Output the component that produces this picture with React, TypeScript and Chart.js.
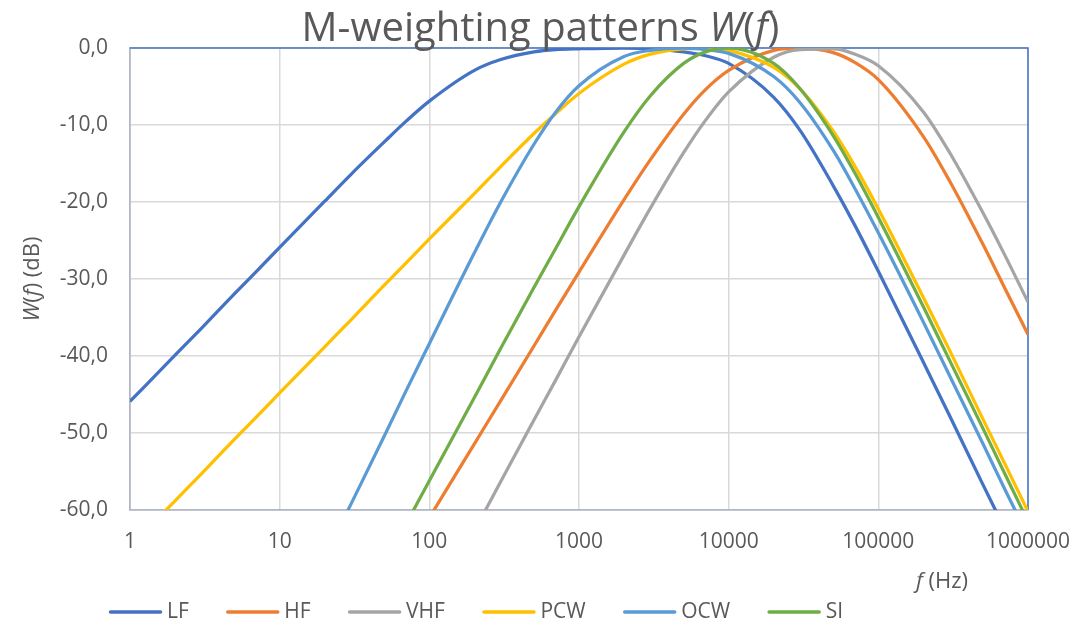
import React, { useEffect, useRef } from 'react';
import { Chart, registerables } from 'chart.js';

Chart.register(...registerables);

// ---- data ----
const FREQ_HZ = [1, 2, 3, 5, 7, 10, 20, 30, 50, 70, 100, 200, 300, 500, 700, 1000, 2000, 3000, 5000, 7000, 10000, 20000, 30000, 50000, 70000, 100000, 200000, 300000, 500000, 700000, 1000000];

const LF = [-45.9, -39.9, -36.4, -31.9, -29.0, -25.9, -19.9, -16.4, -12.2, -9.5, -6.9, -2.9, -1.5, -0.5, -0.2, -0.1, 0.0, -0.1, -0.5, -1.0, -2.0, -6.4, -10.7, -17.9, -23.1, -29.0, -40.8, -47.8, -56.7, -62.5, -68.7];
const HF = [null, null, null, null, null, null, null, -77.8, -70.7, -66.0, -61.0, -51.4, -45.8, -38.7, -34.0, -29.1, -19.7, -14.5, -8.6, -5.4, -2.9, -0.3, 0.0, -0.6, -1.9, -4.1, -11.5, -17.3, -25.5, -31.2, -37.2];
const VHF = [null, null, null, null, null, null, null, null, null, null, -73.5, -62.7, -56.3, -48.3, -43.1, -37.5, -26.9, -20.8, -13.6, -9.4, -5.7, -1.2, -0.2, -0.1, -0.8, -2.3, -8.3, -13.6, -21.4, -26.9, -33.0];
const PCW = [-64.8, -58.8, -55.3, -50.8, -47.9, -44.8, -38.8, -35.3, -30.8, -27.9, -24.8, -18.9, -15.4, -11.1, -8.5, -5.9, -2.1, -0.8, -0.1, 0.0, -0.3, -2.5, -5.3, -10.8, -15.4, -20.9, -32.4, -39.3, -48.2, -54.0, -60.2];
const OCW = [null, null, null, null, null, -78.3, -66.2, -59.2, -50.4, -44.5, -38.4, -26.6, -20.0, -12.5, -8.3, -4.9, -1.1, -0.3, 0.0, -0.2, -0.7, -3.7, -7.1, -13.3, -18.3, -24.0, -35.6, -42.6, -51.4, -57.3, -63.4];
const SI = [null, null, null, null, null, null, null, -75.0, -67.0, -61.8, -56.2, -45.4, -39.0, -31.1, -26.0, -20.6, -10.9, -6.2, -2.0, -0.5, 0.0, -2.0, -5.3, -11.4, -16.3, -22.0, -33.6, -40.6, -49.4, -55.3, -61.5];

const SERIES_NAMES = ['LF', 'HF', 'VHF', 'PCW', 'OCW', 'SI'];
const SERIES_COLORS = ['#4472C4', '#ED7D31', '#A5A5A5', '#FFC000', '#5B9BD5', '#70AD47'];

const X_TICKS = [1, 10, 100, 1000, 10000, 100000, 1000000];
const X_TICK_LABELS = ['1', '10', '100', '1000', '10000', '100000', '1000000'];
const Y_TICKS = [0, -10, -20, -30, -40, -50, -60];
const Y_TICK_LABELS = ['0,0', '-10,0', '-20,0', '-30,0', '-40,0', '-50,0', '-60,0'];

// text parts: [text, italic]
const TITLE_PARTS: [string, boolean][] = [['M-weighting patterns ', false], ['W', true], ['(', false], ['f', true], [')', false]];
const Y_TITLE_PARTS: [string, boolean][] = [['W', true], ['(', false], ['f', true], [') (dB)', false]];
const X_TITLE_PARTS: [string, boolean][] = [['f', true], [' (Hz)', false]];

const FONT = '"Open Sans", "Noto Sans", sans-serif';
const TEXT_COLOR = '#595959';
const GRID_COLOR = '#D9D9D9';
const AXIS_COLOR = '#B3B9C4';
const BORDER_BLUE = '#4472C4';

function fontFor(size: number, italic: boolean) {
  return `${italic ? 'italic ' : ''}${size}px ${FONT}`;
}

function drawParts(ctx: CanvasRenderingContext2D, parts: [string, boolean][], x: number, y: number, size: number, align: 'left' | 'center' | 'right') {
  const widths = parts.map(([t, it]) => {
    ctx.font = fontFor(size, it);
    return ctx.measureText(t).width;
  });
  const total = widths.reduce((s, w) => s + w, 0);
  let cx = align === 'center' ? x - total / 2 : align === 'right' ? x - total : x;
  ctx.textAlign = 'left';
  parts.forEach(([t, it], i) => {
    ctx.font = fontFor(size, it);
    ctx.fillText(t, cx, y);
    cx += widths[i];
  });
}

const decorPlugin = {
  id: 'decor',
  beforeDatasetsDraw(chart: any) {
    const { ctx, chartArea: a } = chart;
    ctx.save();
    ctx.strokeStyle = BORDER_BLUE;
    ctx.lineWidth = 1.5;
    ctx.beginPath();
    ctx.moveTo(a.left, a.top);
    ctx.lineTo(a.right, a.top);
    ctx.lineTo(a.right, a.bottom);
    ctx.stroke();
    ctx.restore();
  },
  afterDraw(chart: any) {
    const { ctx, chartArea: a } = chart;
    ctx.save();
    ctx.fillStyle = TEXT_COLOR;
    ctx.textBaseline = 'alphabetic';
    // title
    drawParts(ctx, TITLE_PARTS, chart.width / 2, 41, 40, 'center');
    // x axis title
    ctx.textBaseline = 'middle';
    drawParts(ctx, X_TITLE_PARTS, 968, 582, 22, 'right');
    // y axis title
    ctx.save();
    ctx.translate(33, (a.top + a.bottom) / 2);
    ctx.rotate(-Math.PI / 2);
    drawParts(ctx, Y_TITLE_PARTS, 0, 0, 22, 'center');
    ctx.restore();
    // legend
    const lineLen = 53;
    const textGap = 5;
    const itemGap = 37.5;
    ctx.font = fontFor(21, false);
    const textW = SERIES_NAMES.map((n) => ctx.measureText(n).width);
    const total = textW.reduce((s, w) => s + lineLen + textGap + w, 0) + itemGap * (SERIES_NAMES.length - 1);
    let x = 476 - total / 2;
    const ly = 612;
    SERIES_NAMES.forEach((name, i) => {
      ctx.strokeStyle = SERIES_COLORS[i];
      ctx.lineWidth = 3.5;
      ctx.lineCap = 'round';
      ctx.beginPath();
      ctx.moveTo(x + 1.5, ly);
      ctx.lineTo(x + lineLen - 1.5, ly);
      ctx.stroke();
      ctx.fillStyle = TEXT_COLOR;
      ctx.font = fontFor(21, false);
      ctx.textAlign = 'left';
      ctx.textBaseline = 'middle';
      ctx.fillText(name, x + lineLen + textGap, ly);
      x += lineLen + textGap + textW[i] + itemGap;
    });
    ctx.restore();
  },
};

export default function App() {
  const ref = useRef<HTMLCanvasElement>(null);

  useEffect(() => {
    const canvas = ref.current;
    if (!canvas) return;
    const seriesValues = [LF, HF, VHF, PCW, OCW, SI];
    const datasets = SERIES_NAMES.map((name, i) => ({
      label: name,
      data: FREQ_HZ.map((f, j) => ({ x: f, y: seriesValues[i][j] })),
      borderColor: SERIES_COLORS[i],
      backgroundColor: SERIES_COLORS[i],
      borderWidth: 3.25,
      pointRadius: 0,
      pointHoverRadius: 0,
      cubicInterpolationMode: 'monotone' as const,
      order: SERIES_NAMES.length - 1 - i,
      spanGaps: false,
    }));

    const chart = new Chart(canvas, {
      type: 'line',
      data: { datasets: datasets as any },
      options: {
        responsive: false,
        maintainAspectRatio: false,
        animation: false,
        devicePixelRatio: 1,
        layout: { padding: { top: 48, right: 53, left: 0, bottom: 0 } },
        plugins: {
          legend: { display: false },
          title: { display: false },
          tooltip: { enabled: false },
        },
        scales: {
          x: {
            type: 'logarithmic',
            min: 1,
            max: 1000000,
            afterBuildTicks: (scale: any) => {
              scale.ticks = X_TICKS.map((v) => ({ value: v, major: true }));
            },
            afterFit: (scale: any) => {
              scale.height = 110;
              scale.paddingLeft = 0;
              scale.paddingRight = 0;
            },
            ticks: {
              autoSkip: false,
              maxRotation: 0,
              padding: 19,
              color: TEXT_COLOR,
              font: { family: FONT, size: 21 },
              callback: (value: any) => {
                const k = X_TICKS.indexOf(Number(value));
                return k >= 0 ? X_TICK_LABELS[k] : '';
              },
            },
            grid: { color: GRID_COLOR, lineWidth: 1.5, drawTicks: false },
            border: { display: true, color: AXIS_COLOR, width: 1.8 },
          },
          y: {
            type: 'linear',
            min: -60,
            max: 0,
            afterBuildTicks: (scale: any) => {
              scale.ticks = Y_TICKS.slice().reverse().map((v) => ({ value: v }));
            },
            afterFit: (scale: any) => {
              scale.width = 130;
              scale.paddingTop = 0;
              scale.paddingBottom = 0;
            },
            ticks: {
              autoSkip: false,
              padding: 22,
              color: TEXT_COLOR,
              font: { family: FONT, size: 21 },
              callback: (value: any) => {
                const k = Y_TICKS.indexOf(Number(value));
                return k >= 0 ? Y_TICK_LABELS[k] : '';
              },
            },
            grid: { color: GRID_COLOR, lineWidth: 1.5, drawTicks: false },
            border: { display: true, color: AXIS_COLOR, width: 1.8 },
          },
        },
      } as any,
      plugins: [decorPlugin],
    });
    return () => chart.destroy();
  }, []);

  return (
    <div style={{ position: 'fixed', left: 0, top: 0, width: 1081, height: 620, background: '#ffffff' }}>
      <canvas ref={ref} width={1081} height={620} style={{ display: 'block', width: 1081, height: 620 }} />
    </div>
  );
}
